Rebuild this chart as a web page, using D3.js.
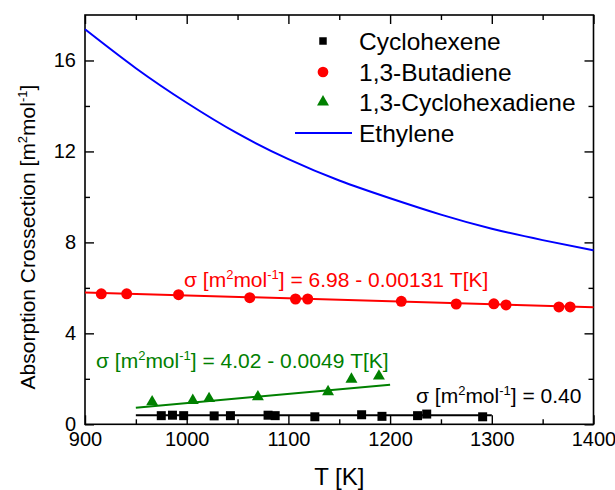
<!DOCTYPE html>
<html>
<head>
<meta charset="utf-8">
<script src="https://cdn.jsdelivr.net/npm/d3@7"></script>
<style>
  body { margin: 0; background: #fff; }
  svg text { font-family: "Liberation Sans", Arial, sans-serif; }
</style>
</head>
<body>
<svg id="chart" width="615" height="490"></svg>
<script>
// Cyclohexene (black squares)
var cyclohexeneT = [975, 986, 997, 1027, 1043, 1080, 1087, 1126, 1172, 1192, 1227, 1236, 1291];
var cyclohexeneV = [0.38, 0.40, 0.38, 0.37, 0.38, 0.40, 0.38, 0.33, 0.42, 0.35, 0.38, 0.45, 0.33];
var cyclohexeneFitT = [950, 1300];
var cyclohexeneFitV = [0.40, 0.40];

// 1,3-Butadiene (red circles)
var butadieneT = [916, 941, 992, 1062, 1107, 1119, 1211, 1265, 1302, 1314, 1366, 1377];
var butadieneV = [5.74, 5.74, 5.70, 5.57, 5.51, 5.51, 5.41, 5.29, 5.30, 5.25, 5.16, 5.16];
var butadieneFitT = [900, 1400];
var butadieneFitV = [5.80, 5.15];

// 1,3-Cyclohexadiene (green triangles)
var cyclohexadieneT = [966, 1006, 1022, 1070, 1139, 1162, 1189];
var cyclohexadieneV = [0.99, 1.05, 1.13, 1.21, 1.43, 1.98, 2.12];
var cyclohexadieneFitT = [950, 1200];
var cyclohexadieneFitV = [0.73, 1.74];

// Ethylene (blue curve)
var ethyleneT = [900, 950, 1000, 1050, 1100, 1150, 1200, 1250, 1300, 1350, 1400];
var ethyleneV = [17.37, 15.66, 14.14, 12.79, 11.66, 10.72, 9.94, 9.22, 8.60, 8.10, 7.65];

var xMajor = [900, 1000, 1100, 1200, 1300, 1400];
var xMinor = [950, 1050, 1150, 1250, 1350];
var yMajor = [0, 4, 8, 12, 16];
var yMinor = [2, 6, 10, 14];

var legendNames = ["Cyclohexene", "1,3-Butadiene", "1,3-Cyclohexadiene", "Ethylene"];

var svg = d3.select("#chart");

var x = d3.scaleLinear().domain([900, 1400]).range([85, 593.5]);
var y = d3.scaleLinear().domain([0, 18]).range([424.3, 15]);

function zip(a, b) { return a.map(function(v, i) { return [v, b[i]]; }); }

// frame
svg.append("rect")
  .attr("x", x(900)).attr("y", y(18))
  .attr("width", x(1400) - x(900)).attr("height", y(0) - y(18))
  .style("fill", "none").style("stroke", "#000").style("stroke-width", 1.6);

// axes: major ticks inward, minor ticks shorter
function styleAxis(g) {
  g.select(".domain").remove();
  g.selectAll("line").style("stroke", "#000").style("stroke-width", 1.4);
  g.selectAll("text").style("font-size", "20px").style("fill", "#000")
    .style("font-family", "'Liberation Sans', Arial, sans-serif");
}

svg.append("g").attr("transform", "translate(0," + y(0) + ")")
  .call(d3.axisBottom(x).tickValues(xMajor).tickSize(-9).tickPadding(8).tickFormat(d3.format("d")))
  .call(styleAxis);
svg.append("g").attr("transform", "translate(0," + y(0) + ")")
  .call(d3.axisBottom(x).tickValues(xMinor).tickSize(-5).tickFormat(""))
  .call(styleAxis);
svg.append("g").attr("transform", "translate(0," + y(18) + ")")
  .call(d3.axisTop(x).tickValues(xMajor).tickSize(-9).tickFormat(""))
  .call(styleAxis);
svg.append("g").attr("transform", "translate(0," + y(18) + ")")
  .call(d3.axisTop(x).tickValues(xMinor).tickSize(-5).tickFormat(""))
  .call(styleAxis);

svg.append("g").attr("transform", "translate(" + x(900) + ",0)")
  .call(d3.axisLeft(y).tickValues(yMajor).tickSize(-9).tickPadding(9).tickFormat(d3.format("d")))
  .call(styleAxis);
svg.append("g").attr("transform", "translate(" + x(900) + ",0)")
  .call(d3.axisLeft(y).tickValues(yMinor).tickSize(-5).tickFormat(""))
  .call(styleAxis);
svg.append("g").attr("transform", "translate(" + x(1400) + ",0)")
  .call(d3.axisRight(y).tickValues(yMajor).tickSize(-9).tickFormat(""))
  .call(styleAxis);
svg.append("g").attr("transform", "translate(" + x(1400) + ",0)")
  .call(d3.axisRight(y).tickValues(yMinor).tickSize(-5).tickFormat(""))
  .call(styleAxis);

// rich text with superscripts
function richText(sel, parts, size) {
  var shift = 0;
  parts.forEach(function(p) {
    var ts = sel.append("tspan").text(p.t);
    if (p.sup) {
      ts.attr("dy", -size * 0.38 - shift).style("font-size", (size * 0.62) + "px");
      shift = -size * 0.38;
    } else {
      ts.style("font-size", size + "px");
      if (shift) ts.attr("dy", -shift);
      shift = 0;
    }
  });
}

// axis titles
svg.append("text")
  .attr("x", (x(900) + x(1400)) / 2).attr("y", 485)
  .attr("text-anchor", "middle").style("font-size", "24px")
  .text("T [K]");

var yt = svg.append("text")
  .attr("transform", "translate(35,237) rotate(-90)")
  .attr("text-anchor", "middle");
richText(yt, [{t: "Absorption Crossection [m"}, {t: "2", sup: true}, {t: "mol"}, {t: "-1", sup: true}, {t: "]"}], 21);

var line = d3.line().x(function(d) { return x(d[0]); }).y(function(d) { return y(d[1]); });

// ethylene
svg.append("path").datum(zip(ethyleneT, ethyleneV))
  .attr("d", line.curve(d3.curveNatural))
  .style("fill", "none").style("stroke", "#0000ff").style("stroke-width", 2);
line.curve(d3.curveLinear);

// fit lines
svg.append("path").datum(zip(butadieneFitT, butadieneFitV)).attr("d", line)
  .style("fill", "none").style("stroke", "#ff0000").style("stroke-width", 2);
svg.append("path").datum(zip(cyclohexadieneFitT, cyclohexadieneFitV)).attr("d", line)
  .style("fill", "none").style("stroke", "#008000").style("stroke-width", 2);
svg.append("path").datum(zip(cyclohexeneFitT, cyclohexeneFitV)).attr("d", line)
  .style("fill", "none").style("stroke", "#000").style("stroke-width", 2);

// markers
var sq = d3.symbol().type(d3.symbolSquare).size(81);
var ci = d3.symbol().type(d3.symbolCircle).size(95);
var tr = d3.symbol().type(d3.symbolTriangle).size(62);

svg.append("g").selectAll("path").data(zip(butadieneT, butadieneV)).enter().append("path")
  .attr("transform", function(d) { return "translate(" + x(d[0]) + "," + y(d[1]) + ")"; })
  .attr("d", ci).style("fill", "#ff0000");
svg.append("g").selectAll("path").data(zip(cyclohexadieneT, cyclohexadieneV)).enter().append("path")
  .attr("transform", function(d) { return "translate(" + x(d[0]) + "," + y(d[1]) + ")"; })
  .attr("d", tr).style("fill", "#008000");
svg.append("g").selectAll("path").data(zip(cyclohexeneT, cyclohexeneV)).enter().append("path")
  .attr("transform", function(d) { return "translate(" + x(d[0]) + "," + y(d[1]) + ")"; })
  .attr("d", sq).style("fill", "#000");

// fit annotations
var a1 = svg.append("text").attr("x", 184).attr("y", 287).style("fill", "#ff0000");
richText(a1, [{t: "\u03c3 [m"}, {t: "2", sup: true}, {t: "mol"}, {t: "-1", sup: true}, {t: "] = 6.98 - 0.00131 T[K]"}], 21);
var a2 = svg.append("text").attr("x", 96).attr("y", 368).style("fill", "#008000");
richText(a2, [{t: "\u03c3 [m"}, {t: "2", sup: true}, {t: "mol"}, {t: "-1", sup: true}, {t: "] = 4.02 - 0.0049 T[K]"}], 21);
var a3 = svg.append("text").attr("x", 416).attr("y", 403).style("fill", "#000");
richText(a3, [{t: "\u03c3 [m"}, {t: "2", sup: true}, {t: "mol"}, {t: "-1", sup: true}, {t: "] = 0.40"}], 21);

// legend
var legY = [41, 72, 102, 133];
var leg = svg.append("g");
leg.append("path").attr("transform", "translate(323," + legY[0] + ")")
  .attr("d", d3.symbol().type(d3.symbolSquare).size(56)).style("fill", "#000");
leg.append("path").attr("transform", "translate(323," + legY[1] + ")")
  .attr("d", d3.symbol().type(d3.symbolCircle).size(90)).style("fill", "#ff0000");
leg.append("path").attr("transform", "translate(323," + legY[2] + ")")
  .attr("d", d3.symbol().type(d3.symbolTriangle).size(62)).style("fill", "#008000");
leg.append("line").attr("x1", 295).attr("x2", 352).attr("y1", legY[3]).attr("y2", legY[3])
  .style("stroke", "#0000ff").style("stroke-width", 2);
leg.selectAll("text").data(legendNames).enter().append("text")
  .attr("x", 359).attr("y", function(d, i) { return legY[i] + 8.5; })
  .style("font-size", "24.5px").text(function(d) { return d; });
</script>
</body>
</html>
